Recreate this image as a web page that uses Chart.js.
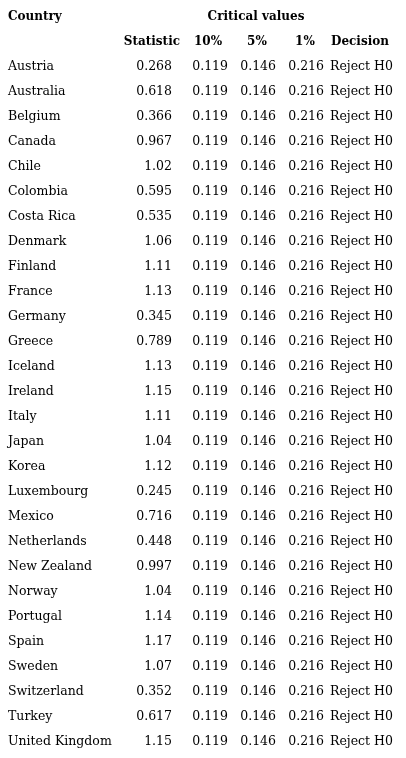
<!DOCTYPE html>
<html>
<head>
<meta charset="utf-8">
<script src="https://cdn.jsdelivr.net/npm/chart.js@4"></script>
<style>
  html, body { margin: 0; padding: 0; background: #fff; }
  #wrap { width: 406px; height: 758px; }
</style>
</head>
<body>
<div id="wrap"><canvas id="canvas"></canvas></div>
<script>
// table data
const countries = ['Austria', 'Australia', 'Belgium', 'Canada', 'Chile', 'Colombia', 'Costa Rica', 'Denmark',
  'Finland', 'France', 'Germany', 'Greece', 'Iceland', 'Ireland', 'Italy', 'Japan', 'Korea', 'Luxembourg',
  'Mexico', 'Netherlands', 'New Zealand', 'Norway', 'Portugal', 'Spain', 'Sweden', 'Switzerland', 'Turkey',
  'United Kingdom'];
const statistic = ['0.268', '0.618', '0.366', '0.967', '1.02', '0.595', '0.535', '1.06', '1.11', '1.13', '0.345',
  '0.789', '1.13', '1.15', '1.11', '1.04', '1.12', '0.245', '0.716', '0.448', '0.997', '1.04', '1.14', '1.17',
  '1.07', '0.352', '0.617', '1.15'];
const cv10 = '0.119';
const cv5 = '0.146';
const cv1 = '0.216';
const decision = 'Reject H0';
const headers = ['Statistic', '10%', '5%', '1%', 'Decision'];

const rowLabels = ['h1', 'h2'].concat(countries);

// draws the table text on the y category scale
const tablePlugin = {
    id: 'table',
    afterDraw(chart) {
        const c = chart.ctx;
        const y = chart.scales.y;
        c.save();
        c.fillStyle = '#000';
        c.textBaseline = 'middle';
        c.font = 'bold 12px "DejaVu Serif"';
        let y0 = y.getPixelForValue(0);
        c.textAlign = 'left'; c.fillText('Country', 8, y0);
        c.textAlign = 'center'; c.fillText('Critical values', 256, y0);
        let y1 = y.getPixelForValue(1);
        c.textAlign = 'right'; c.fillText(headers[0], 180, y1);
        c.textAlign = 'center';
        c.fillText(headers[1], 208, y1);
        c.fillText(headers[2], 257, y1);
        c.fillText(headers[3], 305, y1);
        c.textAlign = 'left'; c.fillText(headers[4], 331, y1);

        c.font = '12.5px "DejaVu Serif"';
        countries.forEach(function (name, i) {
            let yy = y.getPixelForValue(i + 2);
            c.textAlign = 'left';
            c.fillText(name, 8, yy);
            c.textAlign = 'right';
            c.fillText(statistic[i], 172, yy);
            c.fillText(cv10, 228, yy);
            c.fillText(cv5, 276, yy);
            c.fillText(cv1, 324, yy);
            c.textAlign = 'left';
            c.fillText(decision, 330, yy);
        });
        c.restore();
    }
};

new Chart(document.getElementById('canvas'), {
    type: 'bar',
    data: {
        labels: rowLabels,
        datasets: [{ data: rowLabels.map(() => 0), backgroundColor: 'rgba(0,0,0,0)' }]
    },
    options: {
        responsive: true,
        maintainAspectRatio: false,
        animation: false,
        indexAxis: 'y',
        layout: { padding: { top: 4.5, bottom: 3.5, left: 0, right: 0 } },
        plugins: { legend: { display: false }, tooltip: { enabled: false } },
        scales: {
            x: { display: false, min: 0, max: 1 },
            y: { display: false }
        }
    },
    plugins: [tablePlugin]
});
</script>
</body>
</html>
